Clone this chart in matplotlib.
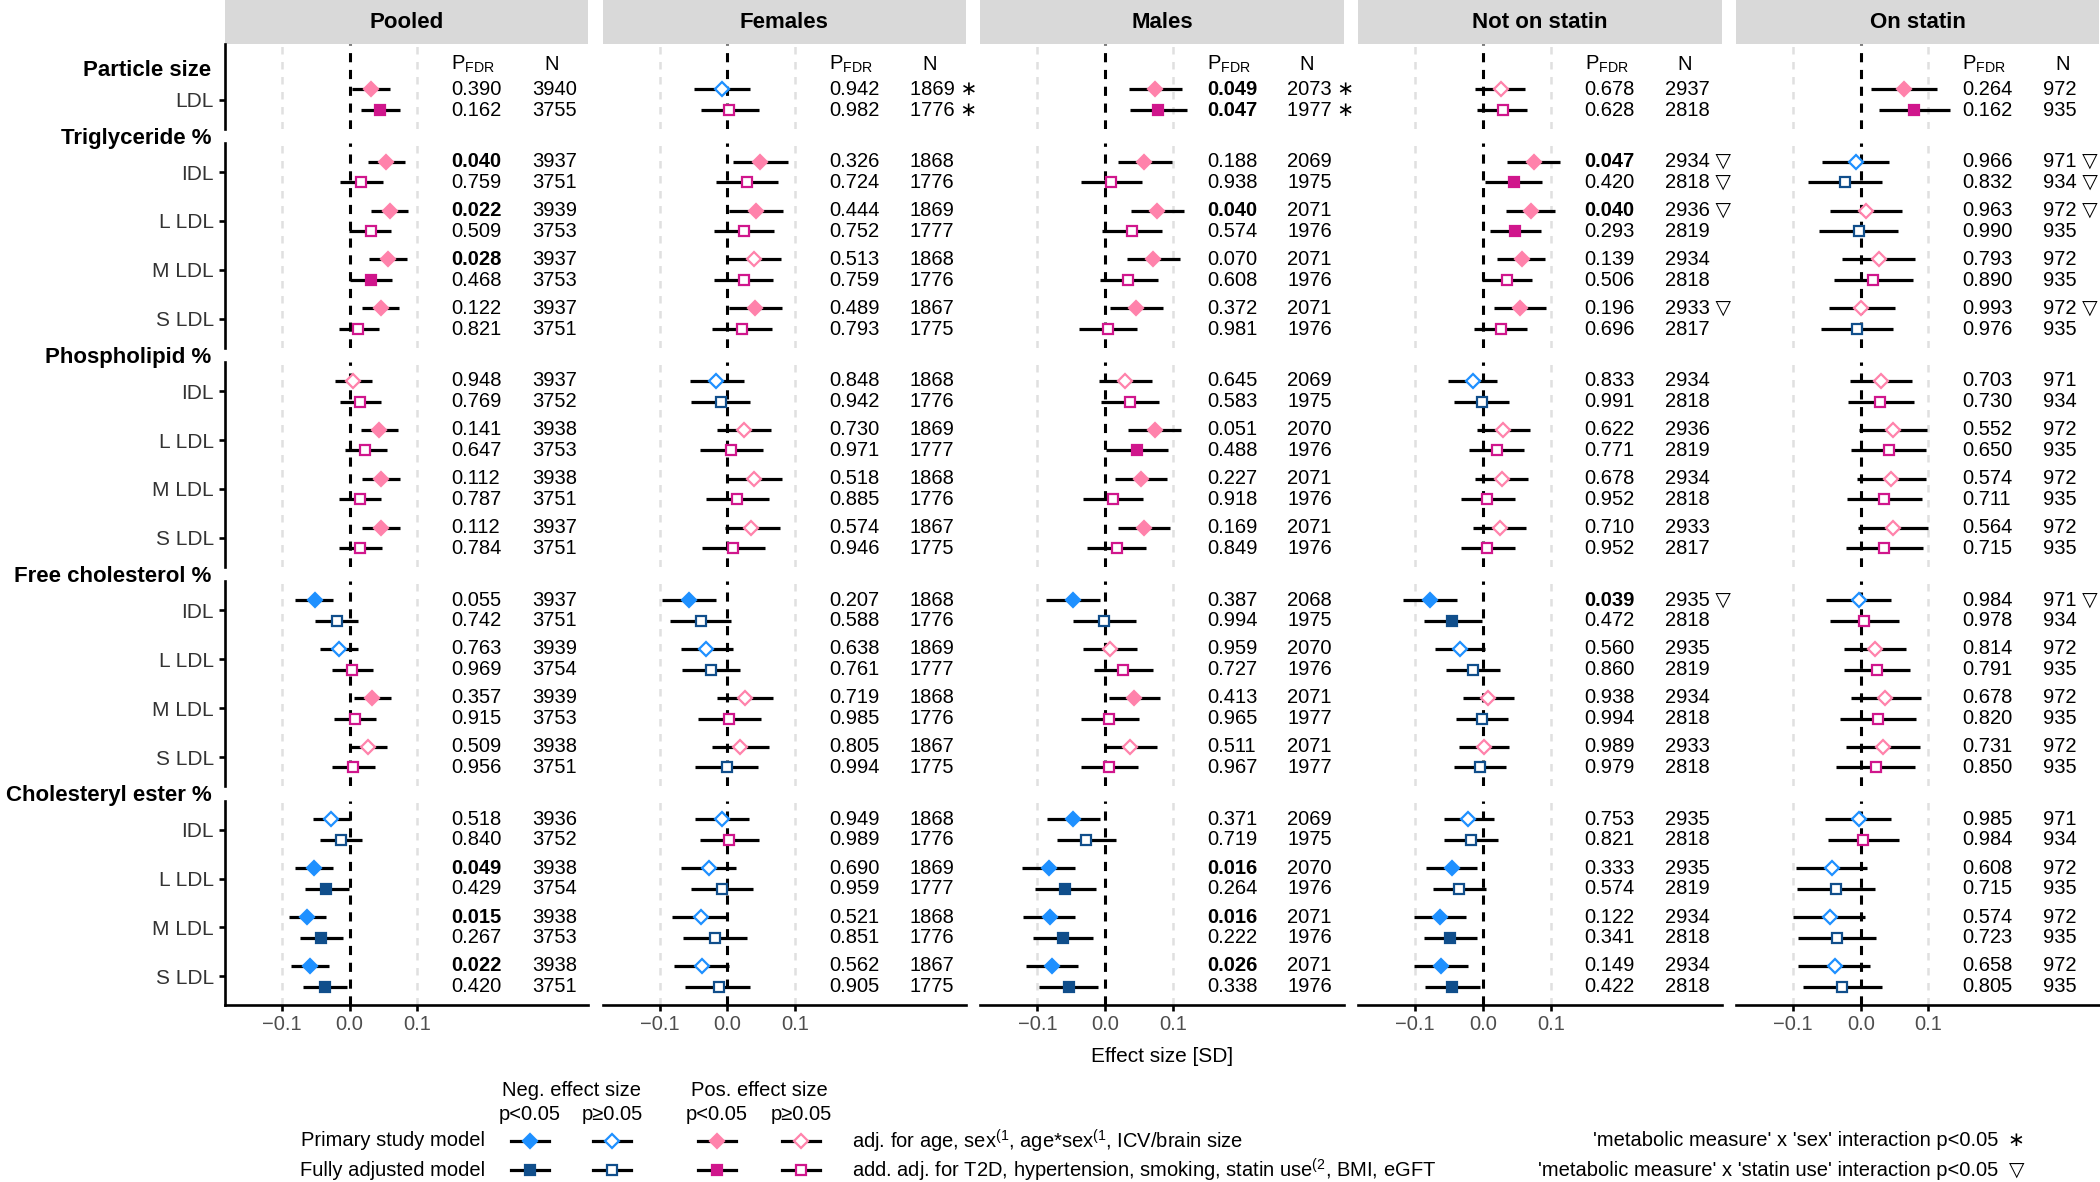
import matplotlib
matplotlib.use("Agg")
import matplotlib.pyplot as plt

plt.rcParams["font.family"] = ["Liberation Sans", "DejaVu Sans"]
plt.rcParams["mathtext.fontset"] = "custom"
plt.rcParams["mathtext.rm"] = "Liberation Sans"
plt.rcParams["mathtext.it"] = "Liberation Sans:italic"
plt.rcParams["mathtext.bf"] = "Liberation Sans:bold"

# ---------------- data ----------------
PANELS = ["Pooled", "Females", "Males", "Not on statin", "On statin"]
GROUPS = ["Particle size", "Triglyceride %", "Phospholipid %",
          "Free cholesterol %", "Cholesteryl ester %"]
ROWS = [["LDL"],
        ["IDL", "L LDL", "M LDL", "S LDL"],
        ["IDL", "L LDL", "M LDL", "S LDL"],
        ["IDL", "L LDL", "M LDL", "S LDL"],
        ["IDL", "L LDL", "M LDL", "S LDL"]]

# Pooled
POOLED_PRIM = [0.032, 0.054, 0.059, 0.057, 0.046, 0.005, 0.044, 0.047, 0.047, -0.051, -0.015, 0.033, 0.028, -0.027, -0.052, -0.062, -0.058]
POOLED_PRIM_LO = [0.004, 0.028, 0.032, 0.029, 0.018, -0.022, 0.017, 0.019, 0.019, -0.080, -0.043, 0.006, -0.001, -0.054, -0.080, -0.089, -0.086]
POOLED_PRIM_HI = [0.060, 0.082, 0.086, 0.085, 0.073, 0.033, 0.072, 0.074, 0.074, -0.024, 0.012, 0.061, 0.056, 0.001, -0.024, -0.034, -0.031]
POOLED_FULL = [0.045, 0.017, 0.031, 0.032, 0.013, 0.016, 0.023, 0.016, 0.016, -0.019, 0.004, 0.008, 0.005, -0.013, -0.034, -0.042, -0.036]
POOLED_FULL_LO = [0.017, -0.014, -0.001, 0.001, -0.016, -0.014, -0.007, -0.015, -0.015, -0.051, -0.026, -0.023, -0.026, -0.043, -0.066, -0.073, -0.068]
POOLED_FULL_HI = [0.074, 0.050, 0.061, 0.062, 0.043, 0.046, 0.056, 0.047, 0.048, 0.013, 0.034, 0.039, 0.037, 0.018, -0.001, -0.009, -0.004]
POOLED_P_PRIM = [0.390, 0.040, 0.022, 0.028, 0.122, 0.948, 0.141, 0.112, 0.112, 0.055, 0.763, 0.357, 0.509, 0.518, 0.049, 0.015, 0.022]
POOLED_P_FULL = [0.162, 0.759, 0.509, 0.468, 0.821, 0.769, 0.647, 0.787, 0.784, 0.742, 0.969, 0.915, 0.956, 0.840, 0.429, 0.267, 0.420]
POOLED_N_PRIM = [3940, 3937, 3939, 3937, 3937, 3937, 3938, 3938, 3937, 3937, 3939, 3939, 3938, 3936, 3938, 3938, 3938]
POOLED_N_FULL = [3755, 3751, 3753, 3753, 3751, 3752, 3753, 3751, 3751, 3751, 3754, 3753, 3751, 3752, 3754, 3753, 3751]
POOLED_FLAG_PRIM = [""] * 17
POOLED_FLAG_FULL = [""] * 17

# Females
FEM_PRIM = [-0.008, 0.048, 0.042, 0.039, 0.041, -0.016, 0.025, 0.039, 0.035, -0.056, -0.031, 0.026, 0.019, -0.008, -0.027, -0.039, -0.038]
FEM_PRIM_LO = [-0.049, 0.009, 0.002, -0.001, 0.002, -0.055, -0.015, -0.001, -0.004, -0.096, -0.069, -0.015, -0.022, -0.047, -0.068, -0.081, -0.079]
FEM_PRIM_HI = [0.033, 0.089, 0.082, 0.079, 0.081, 0.024, 0.065, 0.080, 0.077, -0.017, 0.008, 0.067, 0.061, 0.032, 0.013, 0.001, 0.003]
FEM_FULL = [0.003, 0.029, 0.025, 0.024, 0.021, -0.009, 0.005, 0.015, 0.008, -0.039, -0.024, 0.003, -0.001, 0.002, -0.008, -0.018, -0.013]
FEM_FULL_LO = [-0.039, -0.017, -0.019, -0.019, -0.023, -0.053, -0.040, -0.031, -0.038, -0.084, -0.067, -0.043, -0.048, -0.041, -0.054, -0.065, -0.062]
FEM_FULL_HI = [0.047, 0.075, 0.069, 0.068, 0.066, 0.034, 0.052, 0.061, 0.056, 0.006, 0.019, 0.050, 0.045, 0.047, 0.038, 0.029, 0.034]
FEM_P_PRIM = [0.942, 0.326, 0.444, 0.513, 0.489, 0.848, 0.730, 0.518, 0.574, 0.207, 0.638, 0.719, 0.805, 0.949, 0.690, 0.521, 0.562]
FEM_P_FULL = [0.982, 0.724, 0.752, 0.759, 0.793, 0.942, 0.971, 0.885, 0.946, 0.588, 0.761, 0.985, 0.994, 0.989, 0.959, 0.851, 0.905]
FEM_N_PRIM = [1869, 1868, 1869, 1868, 1867, 1868, 1869, 1868, 1867, 1868, 1869, 1868, 1867, 1868, 1869, 1868, 1867]
FEM_N_FULL = [1776, 1776, 1777, 1776, 1775, 1776, 1777, 1776, 1775, 1776, 1777, 1776, 1775, 1776, 1777, 1776, 1775]
FEM_FLAG_PRIM = ["∗"] + [""] * 16
FEM_FLAG_FULL = ["∗"] + [""] * 16

# Males
MAL_PRIM = [0.074, 0.058, 0.077, 0.070, 0.046, 0.030, 0.073, 0.053, 0.057, -0.047, 0.007, 0.043, 0.037, -0.047, -0.083, -0.082, -0.078]
MAL_PRIM_LO = [0.035, 0.019, 0.038, 0.032, 0.007, -0.009, 0.034, 0.015, 0.019, -0.087, -0.033, 0.005, -0.001, -0.086, -0.122, -0.121, -0.116]
MAL_PRIM_HI = [0.114, 0.098, 0.117, 0.110, 0.085, 0.069, 0.112, 0.092, 0.095, -0.007, 0.047, 0.081, 0.076, -0.007, -0.045, -0.045, -0.040]
MAL_FULL = [0.078, 0.009, 0.039, 0.034, 0.004, 0.036, 0.047, 0.011, 0.017, -0.001, 0.026, 0.006, 0.005, -0.028, -0.059, -0.062, -0.054]
MAL_FULL_LO = [0.037, -0.036, -0.005, -0.008, -0.039, -0.006, 0.001, -0.033, -0.027, -0.047, -0.016, -0.036, -0.036, -0.071, -0.103, -0.106, -0.098]
MAL_FULL_HI = [0.121, 0.055, 0.084, 0.078, 0.047, 0.080, 0.093, 0.056, 0.061, 0.045, 0.070, 0.050, 0.049, 0.016, -0.014, -0.018, -0.010]
MAL_P_PRIM = [0.049, 0.188, 0.040, 0.070, 0.372, 0.645, 0.051, 0.227, 0.169, 0.387, 0.959, 0.413, 0.511, 0.371, 0.016, 0.016, 0.026]
MAL_P_FULL = [0.047, 0.938, 0.574, 0.608, 0.981, 0.583, 0.488, 0.918, 0.849, 0.994, 0.727, 0.965, 0.967, 0.719, 0.264, 0.222, 0.338]
MAL_N_PRIM = [2073, 2069, 2071, 2071, 2071, 2069, 2070, 2071, 2071, 2068, 2070, 2071, 2071, 2069, 2070, 2071, 2071]
MAL_N_FULL = [1977, 1975, 1976, 1976, 1976, 1975, 1976, 1976, 1976, 1975, 1976, 1977, 1977, 1975, 1976, 1976, 1976]
MAL_FLAG_PRIM = ["∗"] + [""] * 16
MAL_FLAG_FULL = ["∗"] + [""] * 16

# Not on statin
NOS_PRIM = [0.026, 0.075, 0.071, 0.057, 0.055, -0.015, 0.030, 0.028, 0.025, -0.078, -0.034, 0.008, 0.002, -0.022, -0.046, -0.064, -0.062]
NOS_PRIM_LO = [-0.011, 0.035, 0.034, 0.021, 0.017, -0.051, -0.008, -0.011, -0.014, -0.118, -0.070, -0.030, -0.035, -0.058, -0.084, -0.102, -0.101]
NOS_PRIM_HI = [0.062, 0.114, 0.107, 0.092, 0.093, 0.021, 0.069, 0.067, 0.064, -0.038, 0.003, 0.046, 0.039, 0.016, -0.009, -0.025, -0.022]
NOS_FULL = [0.029, 0.046, 0.048, 0.036, 0.026, -0.002, 0.021, 0.006, 0.006, -0.045, -0.015, -0.001, -0.004, -0.018, -0.035, -0.048, -0.045]
NOS_FULL_LO = [-0.008, 0.003, 0.010, -0.001, -0.013, -0.042, -0.020, -0.033, -0.033, -0.087, -0.054, -0.039, -0.042, -0.057, -0.073, -0.087, -0.085]
NOS_FULL_HI = [0.065, 0.087, 0.086, 0.073, 0.065, 0.038, 0.061, 0.047, 0.047, -0.002, 0.025, 0.037, 0.034, 0.022, 0.004, -0.009, -0.005]
NOS_P_PRIM = [0.678, 0.047, 0.040, 0.139, 0.196, 0.833, 0.622, 0.678, 0.710, 0.039, 0.560, 0.938, 0.989, 0.753, 0.333, 0.122, 0.149]
NOS_P_FULL = [0.628, 0.420, 0.293, 0.506, 0.696, 0.991, 0.771, 0.952, 0.952, 0.472, 0.860, 0.994, 0.979, 0.821, 0.574, 0.341, 0.422]
NOS_N_PRIM = [2937, 2934, 2936, 2934, 2933, 2934, 2936, 2934, 2933, 2935, 2935, 2934, 2933, 2935, 2935, 2934, 2934]
NOS_N_FULL = [2818, 2818, 2819, 2818, 2817, 2818, 2819, 2818, 2817, 2818, 2819, 2818, 2818, 2818, 2819, 2818, 2818]
NOS_FLAG_PRIM = ["", "▽", "▽", "", "▽", "", "", "", "", "▽", "", "", "", "", "", "", ""]
NOS_FLAG_FULL = ["", "▽", "", "", "", "", "", "", "", "", "", "", "", "", "", "", ""]

# On statin
ONS_PRIM = [0.064, -0.007, 0.008, 0.027, 0.001, 0.030, 0.047, 0.044, 0.047, -0.003, 0.021, 0.036, 0.033, -0.003, -0.042, -0.046, -0.038]
ONS_PRIM_LO = [0.015, -0.057, -0.045, -0.027, -0.047, -0.016, -0.003, -0.005, -0.004, -0.051, -0.025, -0.015, -0.022, -0.052, -0.096, -0.100, -0.092]
ONS_PRIM_HI = [0.113, 0.042, 0.061, 0.080, 0.051, 0.076, 0.098, 0.096, 0.099, 0.044, 0.067, 0.089, 0.087, 0.045, 0.010, 0.006, 0.014]
ONS_FULL = [0.078, -0.023, -0.003, 0.018, -0.006, 0.029, 0.041, 0.034, 0.035, 0.005, 0.024, 0.025, 0.022, 0.004, -0.036, -0.035, -0.027]
ONS_FULL_LO = [0.027, -0.078, -0.061, -0.040, -0.058, -0.019, -0.014, -0.020, -0.021, -0.046, -0.024, -0.031, -0.036, -0.048, -0.094, -0.093, -0.085]
ONS_FULL_HI = [0.131, 0.032, 0.055, 0.077, 0.047, 0.078, 0.097, 0.090, 0.092, 0.057, 0.073, 0.081, 0.080, 0.056, 0.021, 0.022, 0.031]
ONS_P_PRIM = [0.264, 0.966, 0.963, 0.793, 0.993, 0.703, 0.552, 0.574, 0.564, 0.984, 0.814, 0.678, 0.731, 0.985, 0.608, 0.574, 0.658]
ONS_P_FULL = [0.162, 0.832, 0.990, 0.890, 0.976, 0.730, 0.650, 0.711, 0.715, 0.978, 0.791, 0.820, 0.850, 0.984, 0.715, 0.723, 0.805]
ONS_N_PRIM = [972, 971, 972, 972, 972, 971, 972, 972, 972, 971, 972, 972, 972, 971, 972, 972, 972]
ONS_N_FULL = [935, 934, 935, 935, 935, 934, 935, 935, 935, 934, 935, 935, 935, 934, 935, 935, 935]
ONS_FLAG_PRIM = ["", "▽", "▽", "", "▽", "", "", "", "", "▽", "", "", "", "", "", "", ""]
ONS_FLAG_FULL = ["", "▽", "", "", "", "", "", "", "", "", "", "", "", "", "", "", ""]

PANEL_DATA = [
    ((POOLED_PRIM, POOLED_PRIM_LO, POOLED_PRIM_HI, POOLED_P_PRIM, POOLED_N_PRIM, POOLED_FLAG_PRIM),
     (POOLED_FULL, POOLED_FULL_LO, POOLED_FULL_HI, POOLED_P_FULL, POOLED_N_FULL, POOLED_FLAG_FULL)),
    ((FEM_PRIM, FEM_PRIM_LO, FEM_PRIM_HI, FEM_P_PRIM, FEM_N_PRIM, FEM_FLAG_PRIM),
     (FEM_FULL, FEM_FULL_LO, FEM_FULL_HI, FEM_P_FULL, FEM_N_FULL, FEM_FLAG_FULL)),
    ((MAL_PRIM, MAL_PRIM_LO, MAL_PRIM_HI, MAL_P_PRIM, MAL_N_PRIM, MAL_FLAG_PRIM),
     (MAL_FULL, MAL_FULL_LO, MAL_FULL_HI, MAL_P_FULL, MAL_N_FULL, MAL_FLAG_FULL)),
    ((NOS_PRIM, NOS_PRIM_LO, NOS_PRIM_HI, NOS_P_PRIM, NOS_N_PRIM, NOS_FLAG_PRIM),
     (NOS_FULL, NOS_FULL_LO, NOS_FULL_HI, NOS_P_FULL, NOS_N_FULL, NOS_FLAG_FULL)),
    ((ONS_PRIM, ONS_PRIM_LO, ONS_PRIM_HI, ONS_P_PRIM, ONS_N_PRIM, ONS_FLAG_PRIM),
     (ONS_FULL, ONS_FULL_LO, ONS_FULL_HI, ONS_P_FULL, ONS_N_FULL, ONS_FLAG_FULL)),
]

# ---------------- style ----------------
COL_NEG = ("#1E90FF", "#104E8B")   # primary, fully adjusted
COL_POS = ("#FF82AB", "#D0168C")
MARKERS = ("D", "s")
MS = (7.2, 7.4)
MEW = 1.6
STRIP_BG = "#D9D9D9"
GRID_C = "#E0E0E0"
AX_TXT = "#4D4D4D"
FS = 14.5

W, H = 2100, 1182
UNIT = 48.9            # px between pairs
PAD = 0.593            # padding in row units
OFF = 0.212            # primary / fully offset in row units
PANEL_X = [224.8 + 377.8 * i for i in range(5)]
PANEL_W = 363.3
XLIM = (-0.184, 0.352)
FIRST_CENTER = [99.7, 172.0, 391.2, 610.4, 829.6]
X_PVAL, X_N = 0.150, 0.269

fig = plt.figure(figsize=(W / 100, H / 100), dpi=100)


def px_axes(x, y, w, h):
    return fig.add_axes([x / W, 1 - (y + h) / H, w / W, h / H])


tops, bottoms = [], []
for g, labels in enumerate(ROWS):
    n = len(labels)
    tops.append(43.6 if g == 0 else FIRST_CENTER[g] - PAD * UNIT)
    bottoms.append(FIRST_CENTER[g] + (n - 1 + PAD) * UNIT)

for c, (name, models) in enumerate(zip(PANELS, PANEL_DATA)):
    x0 = PANEL_X[c]
    strip = px_axes(x0, 0, PANEL_W, 43.5)
    strip.set_facecolor(STRIP_BG)
    strip.set_xticks([])
    strip.set_yticks([])
    for s in strip.spines.values():
        s.set_visible(False)
    strip.text(0.5, 0.48, name, transform=strip.transAxes, ha="center", va="center",
               fontsize=16, fontweight="bold")

    row0 = 0
    for g, labels in enumerate(ROWS):
        n = len(labels)
        top, bottom = tops[g], bottoms[g]
        h = bottom - top
        ax = px_axes(x0, top, PANEL_W, h)
        ybot = n + PAD
        ytop = ybot - h / UNIT
        ax.set_ylim(ybot, ytop)
        ax.set_xlim(*XLIM)
        ax.patch.set_alpha(0)

        for gx in (-0.1, 0.1):
            ax.axvline(gx, color=GRID_C, lw=1.8, ls=(0, (3, 3)), zorder=0)
        ax.axvline(0, color="black", lw=2.2, ls=(0, (3, 2.5)), zorder=1)

        for k in range(n):
            i = row0 + k
            for m, (est, lo, hi, pv, nn, fl) in enumerate(models):
                yy = k + 1 + (OFF if m == 1 else -OFF)
                ax.hlines(yy, lo[i], hi[i], color="black", lw=2.3, zorder=2)
                sig = lo[i] > 0 or hi[i] < 0
                col = COL_POS[m] if est[i] >= 0 else COL_NEG[m]
                ax.plot(est[i], yy, marker=MARKERS[m], ms=MS[m], mec=col,
                        mfc=col if sig else "white", mew=MEW, zorder=3)
                ax.text(X_PVAL, yy, f"{pv[i]:.3f}", ha="left", va="center", fontsize=FS,
                        fontweight="bold" if pv[i] < 0.05 else "normal", clip_on=False)
                ntxt = f"{nn[i]}" + (f" {fl[i]}" if fl[i] else "")
                ax.text(X_N, yy, ntxt, ha="left", va="center", fontsize=FS, clip_on=False)
        row0 += n

        if g == 0:
            yh = ytop + (64 - top) / UNIT
            ax.text(X_PVAL, yh, r"P$_{\mathregular{FDR}}$", ha="left", va="center", fontsize=FS)
            ax.text(0.298, yh, "N", ha="center", va="center", fontsize=FS)

        ax.spines[["top", "right"]].set_visible(False)
        ax.spines["left"].set_visible(c == 0)
        ax.spines["bottom"].set_visible(g == len(ROWS) - 1)
        for s in ("left", "bottom"):
            ax.spines[s].set_linewidth(1.9)
        if c == 0:
            ax.set_yticks(range(1, n + 1))
            ax.set_yticklabels(labels)
            ax.tick_params(axis="y", length=4, width=1.9, pad=4, labelsize=15, labelcolor="#333333")
        else:
            ax.set_yticks([])
        if g == len(ROWS) - 1:
            ax.set_xticks([-0.1, 0.0, 0.1])
            ax.set_xticklabels(["\u22120.1", "0.0", "0.1"])
            ax.tick_params(axis="x", length=4, width=1.9, pad=3, labelsize=FS, labelcolor=AX_TXT)
        else:
            ax.set_xticks([])

# ---------------- overlay: group headers, x label, legend ----------------
lax = fig.add_axes([0, 0, 1, 1])
lax.set_xlim(0, W)
lax.set_ylim(H, 0)
lax.axis("off")

for g, name in enumerate(GROUPS):
    yh = 70 if g == 0 else (bottoms[g - 1] + tops[g]) / 2 + 2.5
    lax.text(211.5, yh, name, ha="right", va="center", fontsize=16, fontweight="bold")

lax.text(1162, 1056, "Effect size [SD]", ha="center", va="center", fontsize=15)

LEG_Y_HEAD, LEG_Y_P, LEG_Y_ROW = 1090, 1114, (1141, 1170)
LEG_X = [530, 612, 717, 801]
lax.text(571, LEG_Y_HEAD, "Neg. effect size", ha="center", va="center", fontsize=FS)
lax.text(759, LEG_Y_HEAD, "Pos. effect size", ha="center", va="center", fontsize=FS)
for lx, lab in zip(LEG_X, ["p<0.05", "p\u22650.05", "p<0.05", "p\u22650.05"]):
    lax.text(lx, LEG_Y_P, lab, ha="center", va="center", fontsize=FS)
for m, (row_lab, note) in enumerate(zip(
        ["Primary study model", "Fully adjusted model"],
        [r"adj. for age, sex$^{\mathregular{(1}}$, age*sex$^{\mathregular{(1}}$, ICV/brain size",
         r"add. adj. for T2D, hypertension, smoking, statin use$^{\mathregular{(2}}$, BMI, eGFT"])):
    y = LEG_Y_ROW[m]
    lax.text(485, y, row_lab, ha="right", va="center", fontsize=FS)
    lax.text(852, y, note, ha="left", va="center", fontsize=FS)
    for j, lx in enumerate(LEG_X):
        col = COL_NEG[m] if j < 2 else COL_POS[m]
        filled = j % 2 == 0
        lax.plot([lx - 19, lx + 19], [y, y], color="black", lw=2.3, zorder=2)
        lax.plot(lx, y, marker=MARKERS[m], ms=MS[m], mec=col,
                 mfc=col if filled else "white", mew=MEW, zorder=3)

lax.text(1998, LEG_Y_ROW[0], "'metabolic measure' x 'sex' interaction p<0.05",
         ha="right", va="center", fontsize=FS)
lax.text(2016, LEG_Y_ROW[0], "\u2217", ha="center", va="center", fontsize=FS)
lax.text(1998, LEG_Y_ROW[1], "'metabolic measure' x 'statin use' interaction p<0.05",
         ha="right", va="center", fontsize=FS)
lax.text(2017, LEG_Y_ROW[1], "\u25bd", ha="center", va="center", fontsize=FS)

fig.savefig("out.png", dpi=100, facecolor="white")
